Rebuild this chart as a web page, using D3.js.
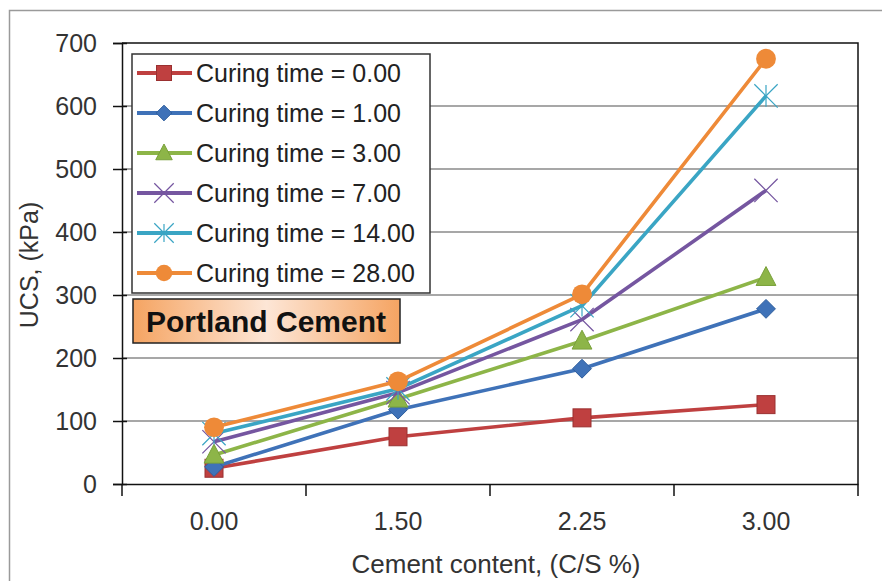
<!DOCTYPE html>
<html>
<head>
<meta charset="utf-8">
<script src="https://cdn.jsdelivr.net/npm/d3@7"></script>
<style>
  body { margin: 0; background: #fff; }
  svg { display: block; font-family: "Liberation Sans", Arial, sans-serif; }
</style>
</head>
<body>
<svg width="882" height="581"></svg>
<script>
// UCS vs cement content for Portland cement, one line per curing time

const cementContent = ["0.00", "1.50", "2.25", "3.00"];
const curingTimes = ["0.00", "1.00", "3.00", "7.00", "14.00", "28.00"];

const ucs0 = [25, 75, 105, 126];
const ucs1 = [27, 118, 183, 278];
const ucs3 = [46, 135, 227, 328];
const ucs7 = [67, 145, 261, 466];
const ucs14 = [80, 151, 283, 616];
const ucs28 = [90, 163, 301, 675];

const yTicks = [0, 100, 200, 300, 400, 500, 600, 700];

const seriesColors = ["#bf4040", "#3f72b8", "#8db548", "#7556a0", "#3aa5c4", "#ee8a38"];
const seriesMarkers = ["square", "diamond", "triangle", "cross", "star", "circle"];

const series = [ucs0, ucs1, ucs3, ucs7, ucs14, ucs28].map((values, i) => ({
  name: "Curing time = " + curingTimes[i],
  values: values,
  color: seriesColors[i],
  marker: seriesMarkers[i],
}));

const plotLeft = 122;
const plotRight = 858;
const plotTop = 43;
const plotBottom = 484;

const svg = d3.select("svg");

// chart area border (only top and left edges fall inside the picture)
svg
  .append("rect")
  .attr("x", 9.5)
  .attr("y", 10.5)
  .attr("width", 900)
  .attr("height", 600)
  .attr("fill", "none")
  .attr("stroke", "#9a9a9a")
  .attr("stroke-width", 1.5);

const xScale = d3.scaleBand().domain(cementContent).range([plotLeft, plotRight]);
const yScale = d3.scaleLinear().domain([0, 700]).range([plotBottom, plotTop]);
const xCenter = (c) => xScale(c) + xScale.bandwidth() / 2;

// gridlines
svg
  .append("g")
  .selectAll("line")
  .data(yTicks.filter((t) => t > 0 && t < 700))
  .enter()
  .append("line")
  .attr("x1", plotLeft)
  .attr("x2", plotRight)
  .attr("y1", (d) => yScale(d))
  .attr("y2", (d) => yScale(d))
  .attr("stroke", "#8a8a8a")
  .attr("stroke-width", 1.5);

// plot frame top / right
svg
  .append("path")
  .attr("d", `M${plotLeft},${yScale(700)}H${plotRight}V${plotBottom}`)
  .attr("fill", "none")
  .attr("stroke", "#111")
  .attr("stroke-width", 1.5);

// y axis
const yAxis = d3.axisLeft(yScale).tickValues(yTicks).tickSize(9).tickPadding(16);
const yG = svg
  .append("g")
  .attr("transform", `translate(${plotLeft},0)`)
  .call(yAxis);
yG.select(".domain").attr("stroke", "#111").attr("stroke-width", 1.5);
yG.selectAll(".tick line").attr("stroke", "#111").attr("stroke-width", 1.5).attr("x2", -9).attr("x1", 5);
yG.selectAll(".tick text")
  .attr("font-size", 25)
  .attr("font-family", "Liberation Sans, Arial, sans-serif")
  .attr("fill", "#333");

// x axis: labels in band centres, ticks on band edges
const xAxis = d3.axisBottom(xScale).tickSize(0).tickPadding(28);
const xG = svg
  .append("g")
  .attr("transform", `translate(0,${plotBottom})`)
  .call(xAxis);
xG.select(".domain").attr("stroke", "#111").attr("stroke-width", 1.5);
xG.selectAll(".tick text")
  .attr("font-size", 25)
  .attr("font-family", "Liberation Sans, Arial, sans-serif")
  .attr("fill", "#333");
xG.selectAll(".edge")
  .data(cementContent.map((c) => xScale(c)).concat([plotRight]))
  .enter()
  .append("line")
  .attr("class", "edge")
  .attr("x1", (d) => d)
  .attr("x2", (d) => d)
  .attr("y1", 0)
  .attr("y2", 12)
  .attr("stroke", "#111")
  .attr("stroke-width", 1.5);

// axis titles
svg
  .append("text")
  .attr("x", 496)
  .attr("y", 573)
  .attr("text-anchor", "middle")
  .attr("font-size", 26)
  .attr("fill", "#333")
  .text("Cement content, (C/S %)");

svg
  .append("text")
  .attr("transform", "translate(38,265) rotate(-90)")
  .attr("text-anchor", "middle")
  .attr("font-size", 25)
  .attr("fill", "#333")
  .text("UCS, (kPa)");

// marker drawing
const drawMarker = (g, type, color, size) => {
  const s = size;
  if (type === "square") {
    g.append("rect")
      .attr("x", -s / 2)
      .attr("y", -s / 2)
      .attr("width", s)
      .attr("height", s)
      .attr("fill", color)
      .attr("stroke", "#9a3030")
      .attr("stroke-width", 1);
  } else if (type === "diamond") {
    g.append("path")
      .attr("d", d3.symbol(d3.symbolDiamond2, s * s * 0.7)())
      .attr("fill", color)
      .attr("stroke", "#2f5f9e")
      .attr("stroke-width", 1);
  } else if (type === "triangle") {
    g.append("path")
      .attr("d", `M0,${-s * 0.6}L${s * 0.55},${s * 0.45}L${-s * 0.55},${s * 0.45}Z`)
      .attr("fill", color)
      .attr("stroke", "#79a03a")
      .attr("stroke-width", 1);
  } else if (type === "cross") {
    g.append("path")
      .attr("d", d3.symbol(d3.symbolX, s * s * 1.1)())
      .attr("fill", "none")
      .attr("stroke", color)
      .attr("stroke-width", 1.2);
  } else if (type === "star") {
    g.append("path")
      .attr("d", d3.symbol(d3.symbolX, s * s * 1.1)())
      .attr("fill", "none")
      .attr("stroke", color)
      .attr("stroke-width", 1.2);
    g.append("line")
      .attr("x1", 0)
      .attr("x2", 0)
      .attr("y1", -s * 0.6)
      .attr("y2", s * 0.6)
      .attr("stroke", color)
      .attr("stroke-width", 1.2);
  } else {
    g.append("circle").attr("r", s * 0.55).attr("fill", color);
  }
};

// series lines and markers
const line = d3
  .line()
  .x((d, i) => xCenter(cementContent[i]))
  .y((d) => yScale(d));

series.forEach((s) => {
  svg
    .append("path")
    .attr("d", line(s.values))
    .attr("fill", "none")
    .attr("stroke", s.color)
    .attr("stroke-width", 3.6)
    .attr("stroke-linejoin", "round");
  s.values.forEach((v, i) => {
    const g = svg.append("g").attr("transform", `translate(${xCenter(cementContent[i])},${yScale(v)})`);
    drawMarker(g, s.marker, s.color, 18);
  });
});

// legend
const legend = svg.append("g");
legend
  .append("rect")
  .attr("x", 132)
  .attr("y", 54)
  .attr("width", 298)
  .attr("height", 239)
  .attr("fill", "#fff")
  .attr("stroke", "#333")
  .attr("stroke-width", 1.5);

const legendRows = legend
  .selectAll(".row")
  .data(series)
  .enter()
  .append("g")
  .attr("class", "row")
  .attr("transform", (d, i) => `translate(0,${73 + i * 40})`);

legendRows
  .append("line")
  .attr("x1", 137)
  .attr("x2", 192)
  .attr("stroke", (d) => d.color)
  .attr("stroke-width", 4);

legendRows.each(function (d) {
  const g = d3.select(this).append("g").attr("transform", "translate(164,0)");
  drawMarker(g, d.marker, d.color, 15);
});

legendRows
  .append("text")
  .attr("x", 196)
  .attr("y", 9)
  .attr("font-size", 25)
  .attr("fill", "#222")
  .text((d) => d.name);

// "Portland Cement" label box
const grad = svg
  .append("defs")
  .append("linearGradient")
  .attr("id", "peach");
grad.append("stop").attr("offset", "0%").attr("stop-color", "#f5a462");
grad.append("stop").attr("offset", "50%").attr("stop-color", "#fde6d6");
grad.append("stop").attr("offset", "100%").attr("stop-color", "#f5a462");

svg
  .append("rect")
  .attr("x", 133)
  .attr("y", 299)
  .attr("width", 267)
  .attr("height", 44)
  .attr("fill", "url(#peach)")
  .attr("stroke", "#222")
  .attr("stroke-width", 1.5);

svg
  .append("text")
  .attr("x", 266)
  .attr("y", 332)
  .attr("text-anchor", "middle")
  .attr("font-size", 30)
  .attr("font-weight", "bold")
  .attr("fill", "#111")
  .text("Portland Cement");
</script>
</body>
</html>
